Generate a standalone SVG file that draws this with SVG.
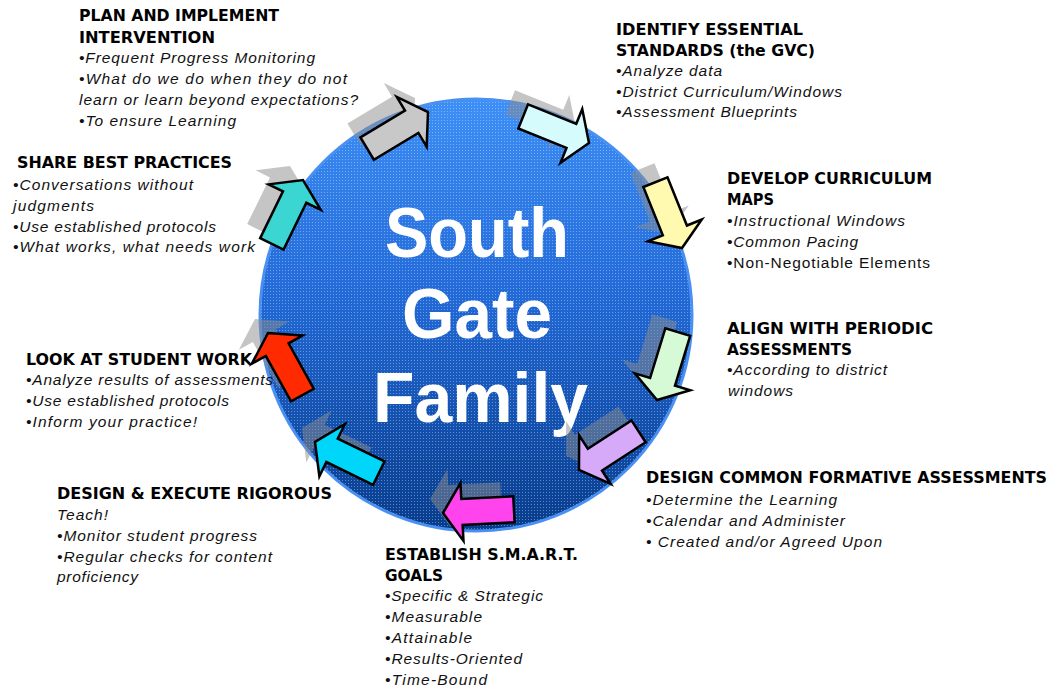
<svg xmlns="http://www.w3.org/2000/svg" xmlns:xlink="http://www.w3.org/1999/xlink" width="1051" height="690" viewBox="0 0 1051 690">
<style>
.h{font-family:"DejaVu Sans","Liberation Sans",Arial,sans-serif;font-weight:bold;font-size:16px;fill:#000}
.b{font-family:"Liberation Sans",Arial,sans-serif;font-style:italic;font-size:15.5px;fill:#111}
.r{font-family:"Liberation Sans",Arial,sans-serif;font-size:15.5px;fill:#111}
.c{font-family:"Liberation Sans",Arial,sans-serif;font-weight:bold;font-size:70px;fill:#fff}
.arr{stroke:#000;stroke-width:2.5;stroke-linejoin:miter}
.sh{fill:#8c8c8c;fill-opacity:0.5}
</style>
<defs>
<linearGradient id="gb" x1="0" y1="0" x2="0" y2="1">
<stop offset="0" stop-color="#3d8ff7"/>
<stop offset="0.45" stop-color="#226ad8"/>
<stop offset="1" stop-color="#073c8c"/>
</linearGradient>
<pattern id="dots" width="3" height="3" patternUnits="userSpaceOnUse">
<rect x="0" y="0" width="1" height="1" fill="#ffffff" fill-opacity="0.35"/>
</pattern>
<polygon id="a" points="-71,-13 -19,-13 -19,-29 0,0 -19,29 -19,13 -71,13"/>
</defs>
<rect width="1051" height="690" fill="#fff"/>
<g id="hub">
<circle cx="476" cy="315" r="216" fill="url(#gb)" stroke="#4a90f2" stroke-width="3"/>
<circle cx="476" cy="315" r="215" fill="url(#dots)"/>
<text class="c" x="385" y="257" textLength="184" lengthAdjust="spacingAndGlyphs">South</text>
<text class="c" x="402" y="338" textLength="150" lengthAdjust="spacingAndGlyphs">Gate</text>
<text class="c" x="373" y="422" textLength="215" lengthAdjust="spacingAndGlyphs">Family</text>
</g>
<g id="plan">
<text class="h" x="79" y="21" textLength="200" lengthAdjust="spacingAndGlyphs">PLAN AND IMPLEMENT</text>
<text class="h" x="79" y="43" textLength="136" lengthAdjust="spacingAndGlyphs">INTERVENTION</text>
<text class="b" x="79" y="63" textLength="236" lengthAdjust="spacing">•Frequent Progress Monitoring</text>
<text class="b" x="79" y="84" textLength="268" lengthAdjust="spacing">•What do we do when they do not</text>
<text class="b" x="79" y="105" textLength="279" lengthAdjust="spacing">learn or learn beyond expectations?</text>
<text class="b" x="79" y="126" textLength="157" lengthAdjust="spacing">•To ensure Learning</text>
</g>
<g id="share">
<text class="h" x="17" y="168" textLength="215" lengthAdjust="spacingAndGlyphs">SHARE BEST PRACTICES</text>
<text class="b" x="13" y="190" textLength="180" lengthAdjust="spacing">•Conversations without</text>
<text class="b" x="13" y="211" textLength="81" lengthAdjust="spacing">judgments</text>
<text class="b" x="13" y="232" textLength="203" lengthAdjust="spacing">•Use established protocols</text>
<text class="b" x="13" y="252" textLength="242" lengthAdjust="spacing">•What works, what needs work</text>
</g>
<g id="identify">
<text class="h" x="616" y="35" textLength="187" lengthAdjust="spacingAndGlyphs">IDENTIFY ESSENTIAL</text>
<text class="h" x="616" y="56" textLength="199" lengthAdjust="spacingAndGlyphs">STANDARDS (the GVC)</text>
<text class="b" x="616" y="76" textLength="106" lengthAdjust="spacing">•Analyze data</text>
<text class="b" x="616" y="97" textLength="226" lengthAdjust="spacing">•District Curriculum/Windows</text>
<text class="b" x="616" y="117" textLength="181" lengthAdjust="spacing">•Assessment Blueprints</text>
</g>
<g id="develop">
<text class="h" x="727" y="184" textLength="205" lengthAdjust="spacingAndGlyphs">DEVELOP CURRICULUM</text>
<text class="h" x="727" y="205" textLength="47" lengthAdjust="spacingAndGlyphs">MAPS</text>
<text class="b" x="727" y="226" textLength="178" lengthAdjust="spacing">•Instructional Windows</text>
<text class="b" x="727" y="247" textLength="131" lengthAdjust="spacing">•Common Pacing</text>
<text class="r" x="727" y="268" textLength="203" lengthAdjust="spacing">•Non-Negotiable Elements</text>
</g>
<g id="align">
<text class="h" x="727" y="334" textLength="206" lengthAdjust="spacingAndGlyphs">ALIGN WITH PERIODIC</text>
<text class="h" x="727" y="355" textLength="125" lengthAdjust="spacingAndGlyphs">ASSESSMENTS</text>
<text class="b" x="727" y="375" textLength="160" lengthAdjust="spacing">•According to district</text>
<text class="b" x="728" y="396" textLength="65" lengthAdjust="spacing">windows</text>
</g>
<g id="formative">
<text class="h" x="646" y="483" textLength="401" lengthAdjust="spacingAndGlyphs">DESIGN COMMON FORMATIVE ASSESSMENTS</text>
<text class="b" x="646" y="505" textLength="191" lengthAdjust="spacing">•Determine the Learning</text>
<text class="b" x="646" y="526" textLength="199" lengthAdjust="spacing">•Calendar and Administer</text>
<text class="b" x="646" y="547" textLength="236" lengthAdjust="spacing">• Created and/or Agreed Upon</text>
</g>
<g id="smart">
<text class="h" x="385" y="560" textLength="193" lengthAdjust="spacingAndGlyphs">ESTABLISH S.M.A.R.T.</text>
<text class="h" x="385" y="581" textLength="58" lengthAdjust="spacingAndGlyphs">GOALS</text>
<text class="b" x="385" y="601" textLength="158" lengthAdjust="spacing">•Specific &amp; Strategic</text>
<text class="b" x="385" y="622" textLength="97" lengthAdjust="spacing">•Measurable</text>
<text class="b" x="385" y="643" textLength="87" lengthAdjust="spacing">•Attainable</text>
<text class="b" x="385" y="664" textLength="137" lengthAdjust="spacing">•Results-Oriented</text>
<text class="b" x="385" y="685" textLength="102" lengthAdjust="spacing">•Time-Bound</text>
</g>
<g id="rigorous">
<text class="h" x="57" y="499" textLength="275" lengthAdjust="spacingAndGlyphs">DESIGN &amp; EXECUTE RIGOROUS</text>
<text class="b" x="57" y="520" textLength="51" lengthAdjust="spacing">Teach!</text>
<text class="b" x="57" y="541" textLength="200" lengthAdjust="spacing">•Monitor student progress</text>
<text class="b" x="57" y="562" textLength="215" lengthAdjust="spacing">•Regular checks for content</text>
<text class="b" x="57" y="582" textLength="81" lengthAdjust="spacing">proficiency</text>
</g>
<g id="lookwork">
<text class="h" x="26" y="365" textLength="226" lengthAdjust="spacingAndGlyphs">LOOK AT STUDENT WORK</text>
<text class="b" x="26" y="385" textLength="247" lengthAdjust="spacing">•Analyze results of assessments</text>
<text class="b" x="26" y="406" textLength="203" lengthAdjust="spacing">•Use established protocols</text>
<text class="b" x="26" y="427" textLength="171" lengthAdjust="spacing">•Inform your practice!</text>
</g>
<g id="connectors">
<g id="shadows">
<use xlink:href="#a" class="sh" transform="translate(415,98) rotate(-31)"/>
<use xlink:href="#a" class="sh" transform="translate(576,129) rotate(22)"/>
<use xlink:href="#a" class="sh" transform="translate(669,234) rotate(68)"/>
<use xlink:href="#a" class="sh" transform="translate(644,386) rotate(107)"/>
<use xlink:href="#a" class="sh" transform="translate(566,456) rotate(147)"/>
<use xlink:href="#a" class="sh" transform="translate(430,499) rotate(177)"/>
<use xlink:href="#a" class="sh" transform="translate(302,428) rotate(206)"/>
<use xlink:href="#a" class="sh" transform="translate(255,319) rotate(241)"/>
<use xlink:href="#a" class="sh" transform="translate(290,166) rotate(296)"/>
</g>
<use xlink:href="#a" class="arr" fill="#c8c8c8" transform="translate(428,112) rotate(-31)"/>
<use xlink:href="#a" class="arr" fill="#d6fbfd" transform="translate(589,143) rotate(22)"/>
<use xlink:href="#a" class="arr" fill="#fffab0" transform="translate(682,248) rotate(68)"/>
<use xlink:href="#a" class="arr" fill="#d6fad6" transform="translate(657,400) rotate(107)"/>
<use xlink:href="#a" class="arr" fill="#d6aaf8" transform="translate(579,470) rotate(147)"/>
<use xlink:href="#a" class="arr" fill="#ff44ee" transform="translate(443,513) rotate(177)"/>
<use xlink:href="#a" class="arr" fill="#00d6fa" transform="translate(315,442) rotate(206)"/>
<use xlink:href="#a" class="arr" fill="#ff2a00" transform="translate(268,333) rotate(241)"/>
<use xlink:href="#a" class="arr" fill="#3cd6d2" transform="translate(303,180) rotate(296)"/>
</g>
</svg>
